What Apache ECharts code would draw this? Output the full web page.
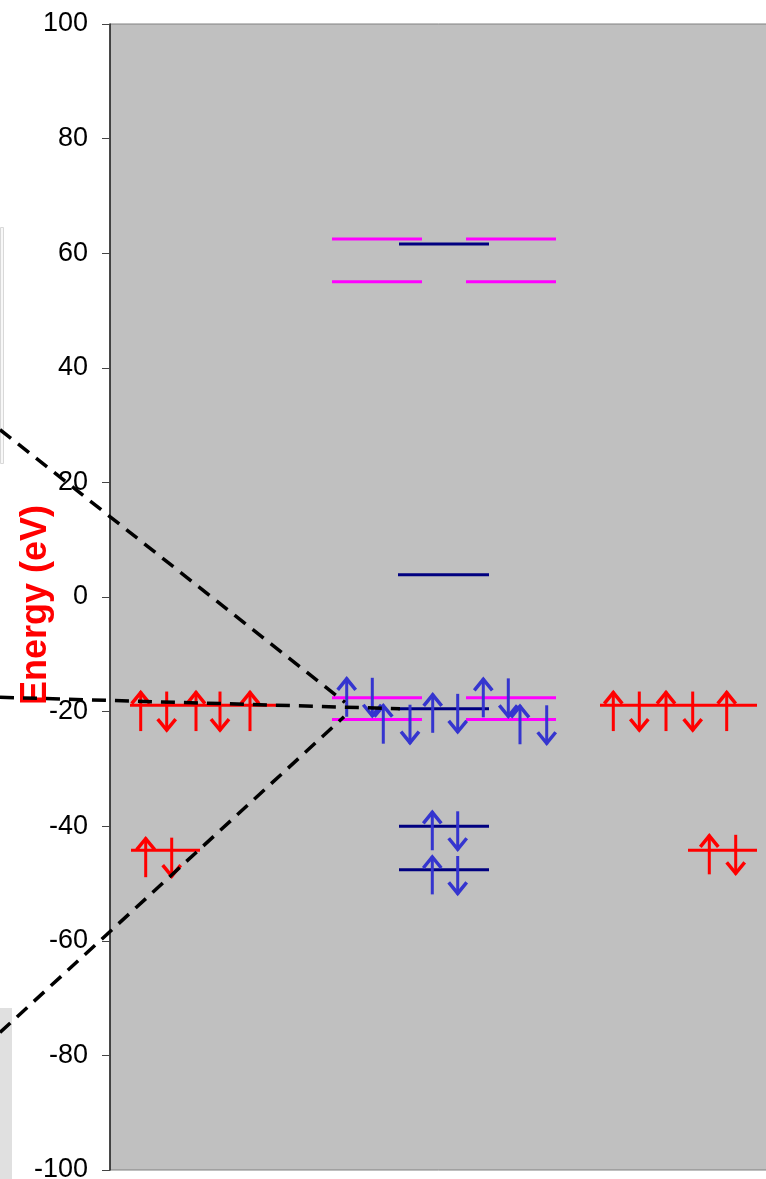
<!DOCTYPE html>
<html>
<head>
<meta charset="utf-8">
<script src="https://cdn.jsdelivr.net/npm/echarts@6/dist/echarts.min.js"></script>
<style>
html,body{margin:0;padding:0;background:#fff;}
#chart{width:766px;height:1179px;}
</style>
</head>
<body>
<div id="chart"></div>
<script>
// ---- data ----
const yTicks = [-100, -80, -60, -40, -20, 0, 20, 40, 60, 80, 100];
const axisTitle = 'Energy (eV)';
// energy levels: [xStart, xEnd, energy]
const levelsRed = [[2.0, 16.6, -18.9], [49.0, 64.7, -18.9], [2.1, 9.0, -44.2], [57.8, 64.7, -44.2]];
const levelsMagenta = [[22.2, 31.2, 62.5], [35.6, 44.6, 62.5], [22.2, 31.2, 55.0], [35.6, 44.6, 55.0],
                       [22.2, 31.2, -17.6], [35.6, 44.6, -17.6], [22.2, 31.2, -21.4], [35.6, 44.6, -21.4]];
const levelsNavy = [[28.9, 37.9, 61.6], [28.8, 37.9, 3.9], [28.8, 37.9, -19.5], [28.9, 37.9, -40.0], [28.9, 37.9, -47.6]];
// electron arrows: [x, topEnergy, bottomEnergy, direction (1 up, -1 down)]
const arrowsRed = [
  [3.07, -16.5, -23.4, 1], [5.67, -16.5, -23.4, -1], [8.6, -16.5, -23.4, 1], [11.0, -16.5, -23.4, -1], [14.0, -16.5, -23.4, 1],
  [50.33, -16.5, -23.4, 1], [52.93, -16.5, -23.4, -1], [55.6, -16.5, -23.4, 1], [58.27, -16.5, -23.4, -1], [61.67, -16.5, -23.4, 1],
  [3.57, -42.0, -48.9, 1], [6.17, -42.0, -48.9, -1],
  [59.93, -41.5, -48.4, 1], [62.57, -41.5, -48.4, -1]
];
const arrowsBlue = [
  [23.67, -14.1, -20.9, 1], [26.23, -14.1, -20.9, -1],
  [27.33, -18.8, -25.6, 1], [30.0, -18.8, -25.6, -1],
  [32.27, -16.9, -23.7, 1], [34.77, -16.9, -23.7, -1],
  [37.33, -14.2, -21.0, 1], [39.83, -14.2, -21.0, -1],
  [41.0, -18.9, -25.7, 1], [43.67, -18.9, -25.7, -1],
  [32.23, -37.4, -44.2, 1], [34.77, -37.4, -44.2, -1],
  [32.23, -45.2, -51.9, 1], [34.77, -45.2, -51.9, -1]
];
// correlation (dashed) lines: [xStart, energyStart, xEnd, energyEnd]
const corrLines = [
  [-11, 29.2, 23.5, -18.4],
  [-11, -17.5, 29.0, -19.5],
  [-11, -76.0, 23.4, -20.9]
];

// ---- rendering ----
const chart = echarts.init(document.getElementById('chart'), null, {renderer: 'canvas'});
const FONT = '"Liberation Sans", Arial, Helvetica, sans-serif';

function levelSeries(data, color) {
  return {
    type: 'custom',
    z: 3,
    data: data,
    renderItem: function (params, api) {
      const p1 = api.coord([api.value(0), api.value(2)]);
      const p2 = api.coord([api.value(1), api.value(2)]);
      return {
        type: 'line',
        shape: {x1: p1[0], y1: p1[1], x2: p2[0], y2: p2[1]},
        style: {stroke: color, lineWidth: 3}
      };
    }
  };
}
function arrowSeries(data, color) {
  return {
    type: 'custom',
    z: 4,
    data: data,
    renderItem: function (params, api) {
      const x = api.value(0), top = api.value(1), bot = api.value(2), dir = api.value(3);
      const pt = api.coord([x, top]);
      const pb = api.coord([x, bot]);
      const tip = dir > 0 ? pt : pb;
      const hw = 9, hh = 12 * (dir > 0 ? 1 : -1);
      return {
        type: 'group',
        children: [
          {type: 'line', shape: {x1: pt[0], y1: pt[1], x2: pb[0], y2: pb[1]}, style: {stroke: color, lineWidth: 3}},
          {type: 'polyline', shape: {points: [[tip[0] - hw, tip[1] + hh], [tip[0], tip[1] + (dir > 0 ? 1 : -1)], [tip[0] + hw, tip[1] + hh]]},
           style: {stroke: color, lineWidth: 3.5, fill: null, lineJoin: 'miter'}}
        ]
      };
    }
  };
}

chart.setOption({
  animation: false,
  backgroundColor: '#ffffff',
  grid: {left: 110, right: -2, top: 24, bottom: 9, outerBoundsMode: 'none', containLabel: false,
         show: true, backgroundColor: '#C0C0C0', borderColor: '#808080', borderWidth: 1},
  xAxis: {type: 'value', min: 0, max: 65.8, show: false},
  yAxis: {
    type: 'value', min: yTicks[0], max: yTicks[yTicks.length - 1], interval: 20,
    axisLine: {show: true, lineStyle: {color: '#222', width: 1.5}},
    axisTick: {show: true, length: 8, lineStyle: {color: '#444'}},
    splitLine: {show: false},
    axisLabel: {fontSize: 27, fontFamily: FONT, color: '#000', margin: 22}
  },
  graphic: [
    {type: 'rect', left: 0, top: 227, shape: {width: 3, height: 236}, style: {fill: '#F8F8F8', stroke: '#D8D8D8', lineWidth: 1}, z: 0},
    {type: 'rect', left: 0, top: 1008, shape: {width: 12, height: 171}, style: {fill: '#E0E0E0'}, z: 0},
    {type: 'text', x: 36, y: 605, rotation: Math.PI / 2, z: 5,
     style: {text: axisTitle, fill: '#FF0000', font: 'bold 36px ' + FONT, align: 'center', verticalAlign: 'middle'}}
  ],
  series: [
    levelSeries(levelsRed, '#FF0000'),
    levelSeries(levelsMagenta, '#FF00FF'),
    levelSeries(levelsNavy, '#000080'),
    arrowSeries(arrowsRed, '#FF0000'),
    arrowSeries(arrowsBlue, '#3535CF'),
    {
      type: 'custom',
      z: 10,
      clip: false,
      silent: true,
      data: corrLines,
      renderItem: function (params, api) {
        const p1 = api.coord([api.value(0), api.value(1)]);
        const p2 = api.coord([api.value(2), api.value(3)]);
        return {
          type: 'line',
          shape: {x1: p1[0], y1: p1[1], x2: p2[0], y2: p2[1]},
          style: {stroke: '#000', lineWidth: 3.5, lineDash: [14, 9]}
        };
      }
    }
  ]
});
</script>
</body>
</html>
